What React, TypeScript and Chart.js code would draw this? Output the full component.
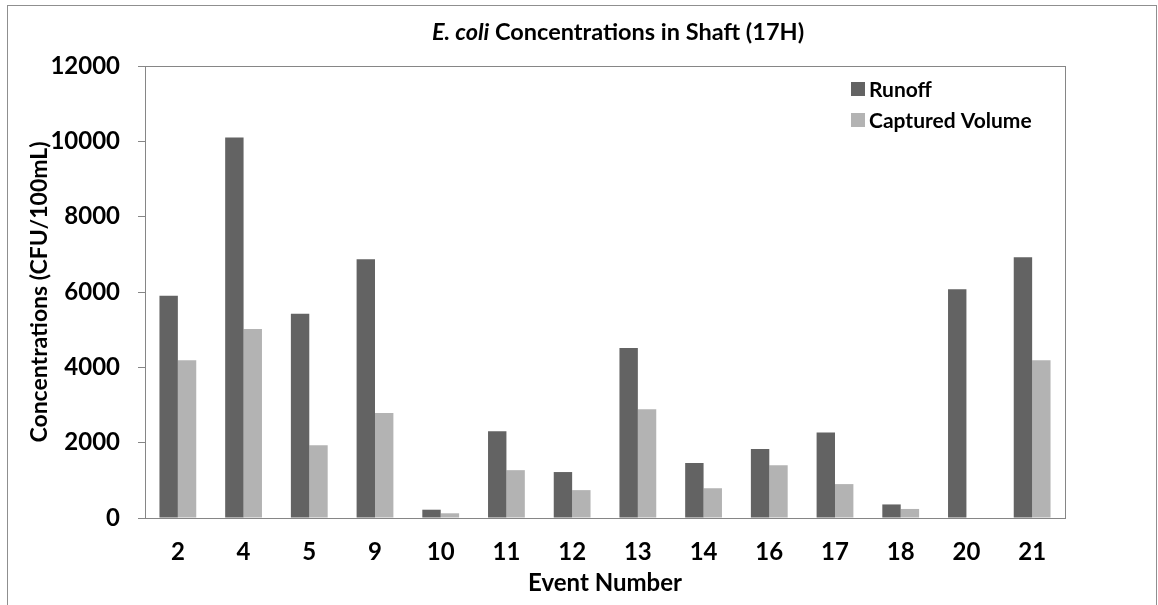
import React, { useEffect, useRef } from "react";
import { Chart, registerables } from "chart.js";

Chart.register(...registerables);

const categories = ["2", "4", "5", "9", "10", "11", "12", "13", "14", "16", "17", "18", "20", "21"];
const runoff = [5900, 10100, 5420, 6870, 220, 2300, 1220, 4510, 1460, 1830, 2270, 360, 6070, 6920];
const captured = [4190, 5020, 1930, 2790, 125, 1270, 740, 2890, 790, 1400, 900, 240, 0, 4190];
const seriesNames = ["Runoff", "Captured Volume"];
const titleItalic = "E. coli";
const titleRest = " Concentrations in Shaft (17H)";
const yTitle = "Concentrations (CFU/100mL)";
const xTitle = "Event Number";

const FONT = "Lato, 'Open Sans', sans-serif";
const AXIS = "#868686";

const framePlugin = {
  id: "frame",
  beforeDraw(chart: any) {
    const ctx = chart.ctx;
    ctx.save();
    ctx.fillStyle = "#ffffff";
    ctx.fillRect(0, 0, chart.width, chart.height);
    ctx.strokeStyle = "#8f8f8f";
    ctx.lineWidth = 1;
    ctx.strokeRect(7.5, 5.5, 1149, 620);
    ctx.restore();
  },
  afterDraw(chart: any) {
    const ctx = chart.ctx;
    const a = chart.chartArea;
    ctx.save();
    ctx.strokeStyle = AXIS;
    ctx.lineWidth = 1;
    ctx.strokeRect(Math.round(a.left) + 0.5, Math.round(a.top) + 0.5, Math.round(a.right - a.left), Math.round(a.bottom - a.top));
    // title
    ctx.fillStyle = "#000";
    ctx.textBaseline = "middle";
    const fi = `italic bold 23.5px ${FONT}`;
    const fn = `bold 23.5px ${FONT}`;
    ctx.font = fi;
    const w1 = ctx.measureText(titleItalic).width;
    ctx.font = fn;
    const w2 = ctx.measureText(titleRest).width;
    const cx = 618;
    const cy = 32;
    const x = cx - (w1 + w2) / 2;
    ctx.textAlign = "left";
    ctx.font = fi;
    ctx.fillText(titleItalic, x, cy);
    ctx.font = fn;
    ctx.fillText(titleRest, x + w1, cy);
    // legend
    const ds = chart.data.datasets;
    ctx.font = `bold 21px ${FONT}`;
    ds.forEach((d: any, i: number) => {
      const y = 89 + i * 31;
      ctx.fillStyle = d.backgroundColor;
      ctx.fillRect(851, y - 7, 14, 14);
      ctx.fillStyle = "#000";
      ctx.fillText(d.label, 869, y + 1);
    });
    ctx.restore();
  },
};

export default function App() {
  const ref = useRef<HTMLCanvasElement | null>(null);
  useEffect(() => {
    if (!ref.current) return;
    const chart = new Chart(ref.current, {
      type: "bar",
      data: {
        labels: categories,
        datasets: [
          { label: seriesNames[0], data: runoff, backgroundColor: "#636363", borderWidth: 0 },
          { label: seriesNames[1], data: captured, backgroundColor: "#b3b3b3", borderWidth: 0 },
        ],
      },
      options: {
        responsive: false,
        animation: false,
        layout: { padding: { top: 66, right: 93, left: 0, bottom: 0 } },
        datasets: { bar: { barPercentage: 1, categoryPercentage: 0.56 } },
        plugins: { legend: { display: false }, title: { display: false }, tooltip: { enabled: false } },
        scales: {
          x: {
            grid: { display: false, drawTicks: false },
            border: { display: true, color: AXIS, width: 1 },
            ticks: { color: "#000", font: { family: FONT, size: 24, weight: "bold" }, padding: 20, maxRotation: 0 },
            title: { display: true, text: xTitle, color: "#000", font: { family: FONT, size: 24, weight: "bold" }, padding: { top: 0, bottom: 7 } },
            afterFit: (s: any) => { s.height = 87; },
          },
          y: {
            min: 0,
            max: 12000,
            grid: { display: true, drawOnChartArea: false, drawTicks: true, tickLength: 7, color: AXIS },
            border: { display: true, color: AXIS, width: 1 },
            ticks: {
              stepSize: 2000,
              color: "#000",
              font: { family: FONT, size: 24, weight: "bold" },
              padding: 18,
              callback: (v: any) => String(v),
            },
            title: { display: true, text: yTitle, color: "#000", font: { family: FONT, size: 23, weight: "bold" }, padding: { top: 26, bottom: 0 } },
            afterFit: (s: any) => { s.width = 145; },
          },
        },
      },
      plugins: [framePlugin],
    } as any);
    return () => chart.destroy();
  }, []);
  return (
    <div style={{ position: "fixed", left: 0, top: 0, width: 1158, height: 605, background: "#fff" }}>
      <canvas ref={ref} width={1158} height={605} style={{ display: "block" }} />
    </div>
  );
}
